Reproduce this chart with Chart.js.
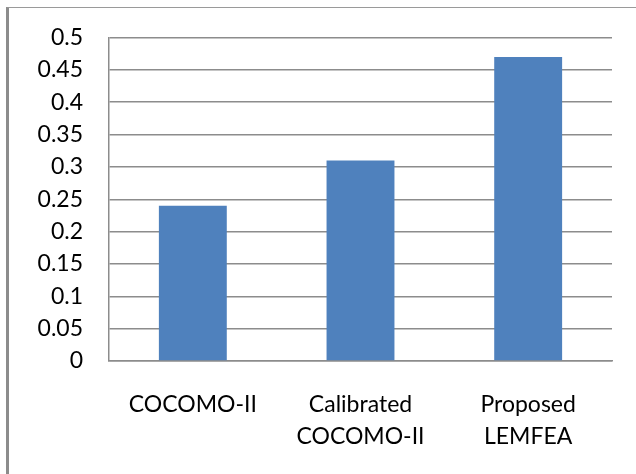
<!DOCTYPE html>
<html>
<head>
<meta charset="utf-8">
<script src="https://cdn.jsdelivr.net/npm/chart.js@4/dist/chart.umd.min.js"></script>
<style>
  html, body { margin: 0; padding: 0; background: #fff; }
  #wrap { position: relative; width: 636px; height: 474px; overflow: hidden; }
  #frame {
    position: absolute; left: 6px; top: 7px; width: 700px; height: 500px;
    border-left: 3px solid #8c8c8c; border-top: 1px solid #9a9a9a;
    pointer-events: none;
  }
  canvas { position: absolute; left: 0; top: 0; }
</style>
</head>
<body>
<div id="wrap">
  <canvas id="c" width="636" height="474"></canvas>
  <div id="frame"></div>
</div>
<script>
// Model names (multi-line labels) and their values
const categories = [["COCOMO-II"], ["Calibrated", "COCOMO-II"], ["Proposed", "LEMFEA"]];
const values = [0.24, 0.31, 0.47];
const yTicks = [0, 0.05, 0.1, 0.15, 0.2, 0.25, 0.3, 0.35, 0.4, 0.45, 0.5];

const X_FONT = { family: "Lato, 'Open Sans', sans-serif", size: 23, lineHeight: 1.39 };
const Y_FONT = { family: "Lato, 'Open Sans', sans-serif", size: 23, lineHeight: 1.0 };
const GRID = '#8c8c8c';

new Chart(document.getElementById('c'), {
  type: 'bar',
  data: {
    labels: categories,
    datasets: [{
      data: values,
      backgroundColor: '#4f81bd',
      borderWidth: 0,
      categoryPercentage: 1.0,
      barPercentage: 0.405
    }]
  },
  options: {
    responsive: false,
    animation: false,
    devicePixelRatio: 1,
    layout: { padding: { top: 37, right: 24, left: 0, bottom: 0 } },
    plugins: { legend: { display: false }, tooltip: { enabled: false } },
    scales: {
      x: {
        grid: { display: false, drawTicks: false },
        border: { display: true, color: GRID, width: 1.5 },
        ticks: { color: '#000', font: X_FONT, padding: 28, maxRotation: 0, autoSkip: false },
        afterFit: (s) => { s.height = 113; }
      },
      y: {
        min: 0, max: 0.5,
        afterBuildTicks: (s) => { s.ticks = yTicks.map(v => ({ value: v })); },
        grid: { color: GRID, lineWidth: 1.5, drawTicks: false },
        border: { display: true, color: GRID, width: 1.5 },
        ticks: {
          color: '#000', font: Y_FONT, padding: 26, autoSkip: false,
          callback: (v) => String(v)
        },
        afterFit: (s) => { s.width = 109; }
      }
    }
  }
});
</script>
</body>
</html>
